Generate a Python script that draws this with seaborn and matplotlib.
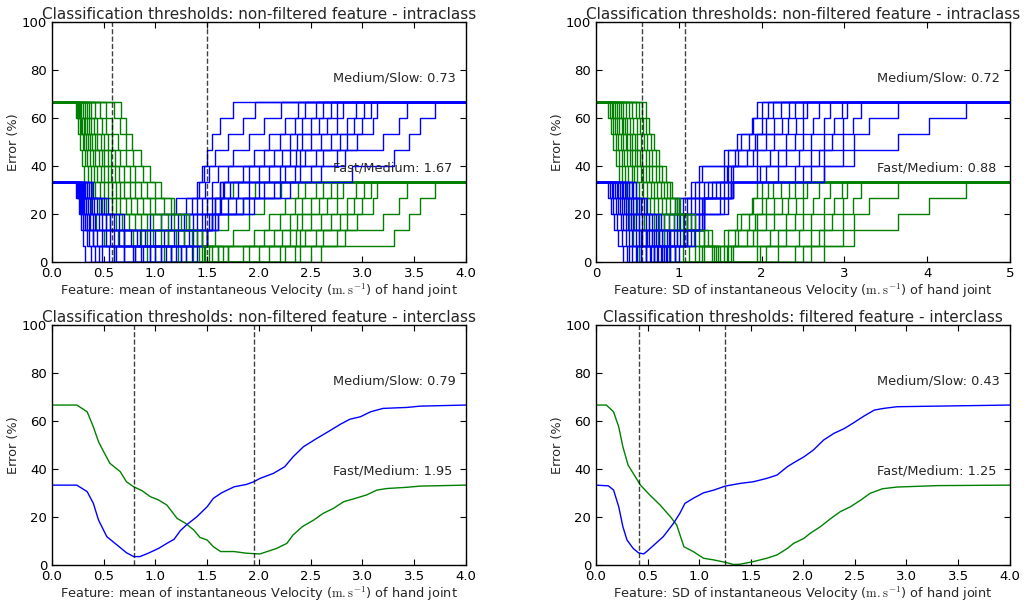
import matplotlib
matplotlib.use("Agg")
import matplotlib.pyplot as plt
import seaborn as sns

N_SAMPLES = 15  # each fold step moves the error by one sample out of 15

# ---- top-left: mean velocity, intraclass (one entry per fold) ----
# green starts at 10/15 errors and drops; blue starts at 5/15, drops, climbs back to 5/15;
# the "high" rises take blue from 5/15 to 10/15 and green (shifted by 5) back to 5/15
mean_green_drops = [
    [0.23, 0.25, 0.27, 0.29, 0.31, 0.34, 0.38, 0.43, 0.50, 0.60],
    [0.24, 0.27, 0.30, 0.32, 0.35, 0.39, 0.45, 0.52, 0.64, 0.80],
    [0.25, 0.28, 0.31, 0.34, 0.38, 0.42, 0.48, 0.56, 0.70, 0.92],
    [0.26, 0.29, 0.33, 0.37, 0.41, 0.46, 0.52, 0.62, 0.78, 1.00],
    [0.27, 0.31, 0.35, 0.40, 0.44, 0.50, 0.58, 0.68, 0.86, 1.08],
    [0.28, 0.32, 0.37, 0.42, 0.47, 0.54, 0.62, 0.74, 0.92, 1.15],
    [0.30, 0.34, 0.39, 0.45, 0.50, 0.58, 0.66, 0.80, 0.98, 1.22],
    [0.32, 0.36, 0.42, 0.48, 0.54, 0.62, 0.72, 0.86, 1.05, 1.30],
    [0.34, 0.38, 0.44, 0.50, 0.57, 0.66, 0.76, 0.92, 1.12, 1.36],
    [0.36, 0.41, 0.47, 0.54, 0.61, 0.70, 0.82, 0.98, 1.20, 1.42],
    [0.38, 0.44, 0.50, 0.57, 0.65, 0.75, 0.88, 1.05, 1.28, 1.48],
    [0.42, 0.48, 0.54, 0.61, 0.70, 0.80, 0.95, 1.12, 1.35, 1.55],
    [0.46, 0.52, 0.58, 0.66, 0.75, 0.86, 1.00, 1.18, 1.40, 1.60],
    [0.52, 0.58, 0.64, 0.72, 0.80, 0.92, 1.08, 1.25, 1.45, 1.65],
    [0.60, 0.66, 0.72, 0.78, 0.88, 1.00, 1.15, 1.32, 1.50, 1.70],
    [0.67, 0.72, 0.77, 0.86, 0.95, 1.05, 1.18, 1.30, 1.45],
]
mean_blue_drops = [
    [0.23, 0.26, 0.28, 0.30, 0.32],
    [0.24, 0.27, 0.30, 0.34, 0.38],
    [0.25, 0.28, 0.32, 0.36, 0.42],
    [0.26, 0.30, 0.34, 0.40, 0.48],
    [0.27, 0.31, 0.37, 0.44, 0.55],
    [0.28, 0.33, 0.40, 0.48, 0.62],
    [0.29, 0.35, 0.42, 0.52, 0.70],
    [0.30, 0.37, 0.45, 0.56, 0.78],
    [0.31, 0.39, 0.48, 0.60, 0.86],
    [0.32, 0.41, 0.52, 0.65, 0.95],
    [0.34, 0.44, 0.56, 0.70, 1.05],
    [0.36, 0.47, 0.60, 0.76, 1.15],
    [0.38, 0.50, 0.65, 0.82, 1.25],
    [0.40, 0.54, 0.70, 0.90, 1.35],
    [0.30, 0.33, 0.36, 0.40],
    [0.26, 0.29, 0.32],
]
mean_blue_low_rises = [
    [0.45, 0.70, 0.95, 1.20, 1.40],
    [0.60, 0.85, 1.05, 1.30, 1.42],
    [0.70, 0.95, 1.15, 1.35, 1.48],
    [0.80, 1.00, 1.22, 1.40, 1.55],
    [0.88, 1.08, 1.28, 1.45, 1.62],
    [0.95, 1.12, 1.32, 1.50, 1.65],
    [1.00, 1.18, 1.36, 1.55, 1.72],
    [1.05, 1.22, 1.40, 1.58, 1.80],
    [1.10, 1.28, 1.45, 1.62, 1.90],
    [1.15, 1.32, 1.48, 1.70, 2.00],
    [1.20, 1.36, 1.52, 1.78, 2.05],
    [1.25, 1.40, 1.55, 1.85, 2.15],
    [1.30, 1.45, 1.58, 1.90, 2.20],
    [1.40, 1.50, 1.60, 1.95, 2.30],
    [1.50, 1.55, 1.58, 1.62],
    [1.60, 1.63, 1.66],
]
mean_high_rises = [
    [1.45, 1.50, 1.55, 1.62, 1.75],
    [1.47, 1.58, 1.70, 1.85, 1.96],
    [1.52, 1.75, 1.90, 2.05, 2.21],
    [1.60, 1.95, 2.10, 2.25, 2.38],
    [1.70, 2.05, 2.20, 2.35, 2.45],
    [1.85, 2.15, 2.30, 2.42, 2.55],
    [1.90, 2.22, 2.37, 2.50, 2.62],
    [2.00, 2.30, 2.42, 2.58, 2.70],
    [2.10, 2.36, 2.50, 2.66, 2.75],
    [2.20, 2.40, 2.60, 2.75, 2.81],
    [2.25, 2.45, 2.70, 2.85, 2.94],
    [2.35, 2.55, 2.78, 2.92, 3.02],
    [2.40, 2.62, 2.85, 3.00, 3.08],
    [2.50, 2.75, 2.95, 3.10, 3.14],
    [2.60, 2.83, 3.20, 3.35, 3.43],
    [2.90, 3.31, 3.45, 3.56, 3.70],
]

# ---- top-right: SD of velocity, intraclass ----
sd_green_drops = [
    [0.15, 0.18, 0.21, 0.24, 0.28, 0.32, 0.36, 0.40, 0.45, 0.52],
    [0.17, 0.20, 0.24, 0.28, 0.32, 0.36, 0.40, 0.46, 0.52, 0.60],
    [0.19, 0.23, 0.27, 0.31, 0.35, 0.40, 0.45, 0.52, 0.60, 0.70],
    [0.21, 0.25, 0.30, 0.34, 0.39, 0.44, 0.50, 0.58, 0.68, 0.80],
    [0.23, 0.28, 0.33, 0.38, 0.43, 0.48, 0.55, 0.64, 0.75, 0.88],
    [0.26, 0.31, 0.36, 0.41, 0.46, 0.52, 0.60, 0.70, 0.82, 0.96],
    [0.28, 0.33, 0.38, 0.44, 0.50, 0.57, 0.65, 0.76, 0.90, 1.05],
    [0.30, 0.35, 0.41, 0.47, 0.54, 0.62, 0.70, 0.82, 0.98, 1.12],
    [0.33, 0.38, 0.44, 0.50, 0.57, 0.66, 0.75, 0.88, 1.05, 1.20],
    [0.36, 0.41, 0.47, 0.53, 0.60, 0.70, 0.80, 0.94, 1.10, 1.30],
    [0.40, 0.45, 0.50, 0.56, 0.64, 0.74, 0.85, 1.00, 1.18, 1.40],
    [0.44, 0.49, 0.54, 0.60, 0.68, 0.78, 0.90, 1.05, 1.25, 1.43],
    [0.48, 0.53, 0.58, 0.64, 0.72, 0.82, 0.95, 1.10, 1.30, 1.45],
    [0.52, 0.57, 0.62, 0.68, 0.76, 0.86, 0.98, 1.15, 1.35, 1.48],
    [0.56, 0.60, 0.66, 0.72, 0.80, 0.90, 1.02, 1.20, 1.40, 1.50],
    [0.60, 0.64, 0.70, 0.76, 0.84, 0.92, 1.00, 1.10, 1.30],
]
sd_blue_drops = [
    [0.15, 0.18, 0.22, 0.27, 0.33],
    [0.17, 0.21, 0.26, 0.32, 0.38],
    [0.19, 0.24, 0.30, 0.36, 0.44],
    [0.21, 0.27, 0.33, 0.40, 0.50],
    [0.23, 0.29, 0.36, 0.44, 0.55],
    [0.25, 0.31, 0.39, 0.48, 0.60],
    [0.27, 0.34, 0.42, 0.52, 0.65],
    [0.29, 0.36, 0.45, 0.56, 0.70],
    [0.31, 0.39, 0.48, 0.60, 0.75],
    [0.33, 0.42, 0.52, 0.64, 0.80],
    [0.35, 0.45, 0.56, 0.68, 0.85],
    [0.38, 0.48, 0.60, 0.72, 0.90],
    [0.40, 0.52, 0.64, 0.76, 0.95],
    [0.43, 0.55, 0.68, 0.80],
    [0.45, 0.58, 0.72, 0.88],
    [0.48, 0.62, 0.78],
]
sd_blue_low_rises = [
    [0.40, 0.55, 0.75, 0.95, 1.15],
    [0.48, 0.62, 0.82, 1.00, 1.20],
    [0.55, 0.70, 0.88, 1.05, 1.25],
    [0.60, 0.76, 0.94, 1.10, 1.30],
    [0.66, 0.82, 0.98, 1.15, 1.35],
    [0.70, 0.86, 1.02, 1.20, 1.40],
    [0.74, 0.90, 1.06, 1.25, 1.45],
    [0.78, 0.94, 1.10, 1.28, 1.50],
    [0.82, 0.98, 1.15, 1.30, 1.55],
    [0.86, 1.02, 1.20, 1.30, 1.60],
    [0.90, 1.06, 1.24, 1.30, 1.63],
    [0.95, 1.10, 1.28, 1.30, 1.63],
    [1.00, 1.15, 1.30, 1.55, 1.65],
    [1.20, 1.30, 1.50, 1.65],
    [1.10, 1.30, 1.60, 1.65],
    [1.25, 1.30, 1.63],
]
sd_high_rises = [
    [1.25, 1.55, 1.70, 1.88, 1.95],
    [1.28, 1.60, 1.75, 1.90, 2.00],
    [1.55, 1.68, 1.85, 2.00, 2.08],
    [1.58, 1.72, 1.92, 2.05, 2.14],
    [1.60, 1.82, 1.95, 2.15, 2.24],
    [1.63, 1.90, 2.05, 2.25, 2.33],
    [1.65, 1.95, 2.15, 2.32, 2.41],
    [1.95, 2.10, 2.30, 2.42, 2.50],
    [1.98, 2.20, 2.40, 2.50, 2.55],
    [2.05, 2.30, 2.50, 2.62, 2.70],
    [2.20, 2.45, 2.60, 2.75, 2.83],
    [2.40, 2.60, 2.75, 2.88, 2.97],
    [2.50, 2.70, 2.85, 2.98, 3.03],
    [2.60, 2.75, 2.98, 3.10, 3.20],
    [2.75, 2.98, 3.12, 3.30, 3.65],
    [2.75, 3.12, 3.65, 4.02, 4.47],
]

# ---- bottom-left: mean velocity, interclass (averaged) ----
mean_inter_green_x = [0.0, 0.24, 0.34, 0.40, 0.45, 0.50, 0.56, 0.66, 0.72, 0.79, 0.87, 0.95,
                      1.03, 1.11, 1.16, 1.21, 1.29, 1.37, 1.43, 1.50, 1.56, 1.63, 1.76, 1.88,
                      2.01, 2.08, 2.17, 2.27, 2.33, 2.42, 2.53, 2.62, 2.72, 2.82, 2.91, 3.04,
                      3.14, 3.24, 3.43, 3.56, 4.0]
mean_inter_green_y = [66.7, 66.7, 63.9, 57.6, 51.4, 47.2, 42.4, 38.9, 34.7, 32.6, 31.0, 28.5,
                      27.1, 25.0, 22.2, 19.4, 17.4, 14.6, 11.5, 10.4, 7.6, 5.6, 5.6, 4.9,
                      4.6, 5.6, 6.9, 9.0, 12.5, 16.0, 18.75, 21.5, 23.6, 26.4, 27.5, 29.2,
                      31.25, 31.9, 32.4, 32.9, 33.3]
mean_inter_blue_x = [0.0, 0.24, 0.34, 0.40, 0.45, 0.53, 0.63, 0.72, 0.79, 0.85, 0.93, 1.03,
                     1.11, 1.18, 1.24, 1.30, 1.40, 1.50, 1.56, 1.64, 1.76, 1.88, 1.95, 2.01,
                     2.14, 2.25, 2.33, 2.43, 2.56, 2.67, 2.79, 2.88, 2.98, 3.08, 3.20, 3.43,
                     3.56, 4.0]
mean_inter_blue_y = [33.3, 33.3, 30.6, 25.7, 18.75, 11.8, 8.3, 5.1, 3.5, 3.5, 4.9, 6.9,
                     9.0, 10.7, 14.3, 16.7, 20.1, 24.3, 27.8, 30.1, 32.6, 33.6, 34.7, 36.1,
                     38.2, 41.0, 45.1, 49.3, 52.8, 55.6, 58.75, 60.8, 61.8, 63.9, 65.3, 65.7,
                     66.25, 66.7]

# ---- bottom-right: SD of velocity (filtered), interclass ----
sd_inter_green_x = [0.0, 0.10, 0.17, 0.22, 0.26, 0.31, 0.38, 0.43, 0.52, 0.62, 0.72, 0.78,
                    0.85, 0.94, 1.04, 1.14, 1.25, 1.33, 1.39, 1.52, 1.65, 1.75, 1.85, 1.91,
                    2.01, 2.07, 2.17, 2.27, 2.36, 2.46, 2.56, 2.65, 2.77, 2.91, 3.30, 4.0]
sd_inter_green_y = [66.7, 66.7, 63.9, 57.6, 49.3, 41.7, 36.8, 33.3, 29.2, 25.0, 20.1, 16.7,
                    7.6, 5.6, 2.8, 2.1, 1.1, 0.2, 0.3, 1.4, 2.8, 4.2, 6.9, 9.0,
                    11.1, 13.2, 16.0, 19.4, 22.2, 24.3, 27.1, 29.9, 31.8, 32.5, 33.1, 33.3]
sd_inter_blue_x = [0.0, 0.12, 0.17, 0.22, 0.26, 0.30, 0.36, 0.41, 0.46, 0.49, 0.56, 0.65,
                   0.75, 0.81, 0.86, 0.94, 1.04, 1.14, 1.25, 1.39, 1.52, 1.65, 1.75, 1.85,
                   1.91, 2.01, 2.10, 2.20, 2.30, 2.40, 2.49, 2.59, 2.69, 2.78, 2.91, 3.30, 4.0]
sd_inter_blue_y = [33.3, 33.0, 31.25, 24.3, 16.0, 10.4, 6.9, 5.1, 4.6, 5.6, 8.3, 11.8,
                   17.4, 21.5, 25.7, 27.8, 30.1, 31.25, 32.9, 34.0, 34.7, 36.1, 37.5, 41.0,
                   42.6, 45.1, 47.9, 52.1, 54.9, 56.9, 59.3, 62.1, 64.6, 65.3, 66.0, 66.25, 66.7]

# selected thresholds (dashed lines) and annotated values
mean_intra_cuts = [0.58, 1.50]
sd_intra_cuts = [0.553, 1.08]
mean_inter_cuts = [0.79, 1.95]
sd_inter_cuts = [0.42, 1.246]
panel_labels = [("0.73", "1.67"), ("0.72", "0.88"), ("0.79", "1.95"), ("0.43", "1.25")]

GREEN = (0.0, 0.5, 0.0)
BLUE = (0.0, 0.0, 1.0)
UNIT = r"$\mathrm{m.s^{-1}}$"


def setup_style():
    sns.set_style("white")
    plt.rcParams.update({
        "font.family": ["DejaVu Sans"],
        "mathtext.fontset": "cm",
        "xtick.direction": "in", "ytick.direction": "in",
        "xtick.top": True, "ytick.right": True,
        "xtick.bottom": True, "ytick.left": True,
        "xtick.major.size": 4, "ytick.major.size": 4,
        "xtick.major.width": 0.8, "ytick.major.width": 0.8,
        "xtick.labelsize": 9.5, "ytick.labelsize": 9.5,
        "axes.edgecolor": "black", "axes.linewidth": 1.0,
        "xtick.color": "black", "ytick.color": "black",
    })


def step_curve(start, drops, rises, x_max):
    """Turn drop/rise positions of one fold into a step curve in %."""
    xs = [0.0] + list(drops) + list(rises) + [x_max]
    counts = [start]
    for _ in drops:
        counts.append(counts[-1] - 1)
    for _ in rises:
        counts.append(counts[-1] + 1)
    counts.append(counts[-1])
    return xs, [c * 100.0 / N_SAMPLES for c in counts]


def draw_step(ax, xs, ys, color):
    sns.lineplot(x=xs, y=ys, ax=ax, color=color, lw=1, estimator=None,
                 sort=False, drawstyle="steps-post", legend=False)


def plot_intra(ax, g_drops, b_drops, b_low, high, x_max):
    for gd, bd, bl, hr in zip(g_drops, b_drops, b_low, high):
        n_back = len(gd) - 5  # green climbs back to 5/15
        xs, ys = step_curve(10, gd, hr[len(hr) - n_back:], x_max)
        draw_step(ax, xs, ys, GREEN)
        xs, ys = step_curve(5, bd, list(bl) + list(hr), x_max)
        draw_step(ax, xs, ys, BLUE)


def decorate(ax, title, feature, cuts, labels, x_max, step):
    for c in cuts:
        ax.axvline(c, color="k", ls="--", lw=1, alpha=0.75)
    ax.set_xlim(0, x_max)
    ax.set_ylim(0, 100)
    ticks = [i * step for i in range(int(round(x_max / step)) + 1)]
    ax.set_xticks(ticks)
    fmt = "{:.1f}" if step < 1 else "{:.0f}"
    ax.set_xticklabels([fmt.format(t) for t in ticks])
    ax.set_yticks([0, 20, 40, 60, 80, 100])
    ax.set_title(title, fontsize=11, pad=2)
    ax.set_xlabel(f"Feature: {feature} of instantaneous Velocity ({UNIT}) of hand joint",
                  fontsize=9.3, labelpad=1)
    ax.set_ylabel("Error (%)", fontsize=9.3, labelpad=1)
    ax.text(0.68, 0.767, f"Medium/Slow: {labels[0]}", transform=ax.transAxes,
            fontsize=9.3, va="center")
    ax.text(0.68, 0.393, f"Fast/Medium: {labels[1]}", transform=ax.transAxes,
            fontsize=9.3, va="center")


def main():
    setup_style()
    fig = plt.figure(figsize=(10.27, 6.04), dpi=100)
    w, h = 0.403, 0.397
    ax_tl = fig.add_axes([0.0506, 0.566, w, h])
    ax_tr = fig.add_axes([0.5803, 0.566, w, h])
    ax_bl = fig.add_axes([0.0506, 0.0646, w, h])
    ax_br = fig.add_axes([0.5803, 0.0646, w, h])

    plot_intra(ax_tl, mean_green_drops, mean_blue_drops, mean_blue_low_rises, mean_high_rises, 4.0)
    decorate(ax_tl, "Classification thresholds: non-filtered feature - intraclass", "mean",
             mean_intra_cuts, panel_labels[0], 4.0, 0.5)

    plot_intra(ax_tr, sd_green_drops, sd_blue_drops, sd_blue_low_rises, sd_high_rises, 5.0)
    decorate(ax_tr, "Classification thresholds: non-filtered feature - intraclass", "SD",
             sd_intra_cuts, panel_labels[1], 5.0, 1)

    sns.lineplot(x=mean_inter_green_x, y=mean_inter_green_y, ax=ax_bl, color=GREEN, lw=1,
                 estimator=None, sort=False)
    sns.lineplot(x=mean_inter_blue_x, y=mean_inter_blue_y, ax=ax_bl, color=BLUE, lw=1,
                 estimator=None, sort=False)
    decorate(ax_bl, "Classification thresholds: non-filtered feature - interclass", "mean",
             mean_inter_cuts, panel_labels[2], 4.0, 0.5)

    sns.lineplot(x=sd_inter_green_x, y=sd_inter_green_y, ax=ax_br, color=GREEN, lw=1,
                 estimator=None, sort=False)
    sns.lineplot(x=sd_inter_blue_x, y=sd_inter_blue_y, ax=ax_br, color=BLUE, lw=1,
                 estimator=None, sort=False)
    decorate(ax_br, "Classification thresholds: filtered feature - interclass", "SD",
             sd_inter_cuts, panel_labels[3], 4.0, 0.5)

    fig.savefig("out.png", dpi=100)
    plt.close(fig)


if __name__ == "__main__":
    main()
